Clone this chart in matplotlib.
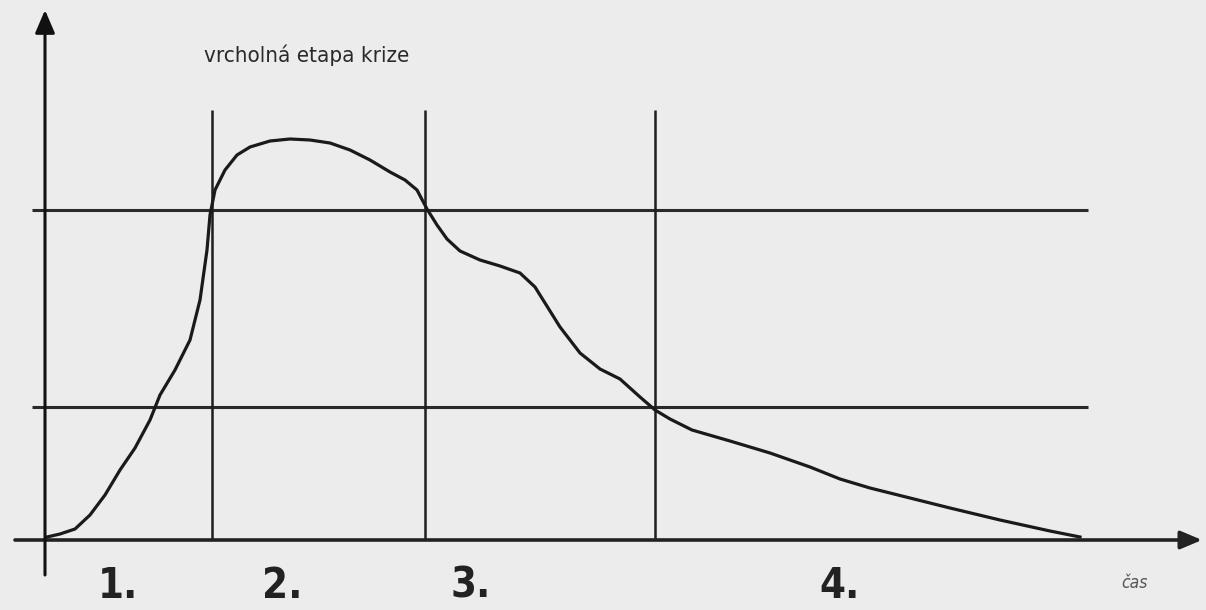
import matplotlib.pyplot as plt

# prubeh krize (x = cas, y = intenzita)
cas = [0.00, 0.13, 0.28, 0.43, 0.58, 0.73, 0.88, 1.03, 1.13, 1.28, 1.43, 1.53, 1.60, 1.63,
       1.68, 1.78, 1.90, 2.03, 2.23, 2.43, 2.63, 2.83, 3.03, 3.23, 3.43, 3.58, 3.70, 3.80,
       3.90, 4.00, 4.13, 4.33, 4.53, 4.73, 4.88, 4.98, 5.13, 5.33, 5.53, 5.73, 5.93, 6.08,
       6.23, 6.45, 6.83, 7.23, 7.63, 7.93, 8.23, 8.63, 9.03, 9.53, 10.03, 10.33]
intenzita = [0.00, 0.03, 0.08, 0.22, 0.42, 0.67, 0.89, 1.17, 1.42, 1.67, 1.97, 2.37, 2.87,
             3.22, 3.47, 3.67, 3.82, 3.90, 3.96, 3.98, 3.97, 3.94, 3.87, 3.77, 3.65, 3.57,
             3.47, 3.28, 3.12, 2.98, 2.86, 2.77, 2.71, 2.64, 2.50, 2.34, 2.10, 1.84, 1.68,
             1.58, 1.40, 1.27, 1.18, 1.07, 0.96, 0.84, 0.70, 0.58, 0.49, 0.39, 0.29, 0.17,
             0.06, 0.00]

hranice_etap = [1.65, 3.78, 6.08]        # svisle cary mezi etapami
prahy = [3.27, 1.30]                     # vodorovne cary
etapy = ["1.", "2.", "3.", "4."]
pozice_etap = [0.71, 2.35, 4.24, 7.93]

fig = plt.figure(figsize=(12.06, 6.10), dpi=100)
fig.patch.set_facecolor("#ececec")
ax = fig.add_axes([0, 0, 1, 1])
ax.set_facecolor("#ececec")
ax.set_xlim(-0.47, 11.59)
ax.set_ylim(-0.73, 5.37)
ax.axis("off")

uzky = ["DejaVu Sans"]
barva = "#1a1a1a"

# osy se sipkami
ax.annotate("", xy=(11.55, -0.03), xytext=(-0.32, -0.03),
            arrowprops=dict(arrowstyle="-|>,head_length=1.3,head_width=0.55",
                            color="#222222", lw=2.6, shrinkA=0, shrinkB=0))
ax.annotate("", xy=(-0.02, 5.27), xytext=(-0.02, -0.38),
            arrowprops=dict(arrowstyle="-|>,head_length=1.4,head_width=0.6",
                            color="#111111", lw=2.2, shrinkA=0, shrinkB=0))

# vodorovne a svisle cary
for p in prahy:
    ax.plot([-0.15, 10.41], [p, p], color="#2a2a2a", lw=2.2, solid_capstyle="butt")
for h in hranice_etap:
    ax.plot([h, h], [-0.03, 4.27], color="#1e1e1e", lw=1.8, solid_capstyle="butt")

# krivka
ax.plot(cas, intenzita, color=barva, lw=2.3, solid_joinstyle="round")

# popisky
ax.text(2.60, 4.82, "vrcholná etapa krize", family=uzky, fontsize=16, stretch="condensed",
        color="#2a2a2a", ha="center", va="center")
for e, x in zip(etapy, pozice_etap):
    ax.text(x, -0.61, e, family=uzky, fontsize=30, stretch="condensed", fontweight="bold",
            color="#222222", ha="center", va="baseline")
ax.text(10.87, -0.46, "čas", family=uzky, fontsize=12.5, style="italic", stretch="condensed",
        color="#555555", ha="center", va="center")

fig.savefig("out.png", dpi=100, facecolor=fig.get_facecolor())
